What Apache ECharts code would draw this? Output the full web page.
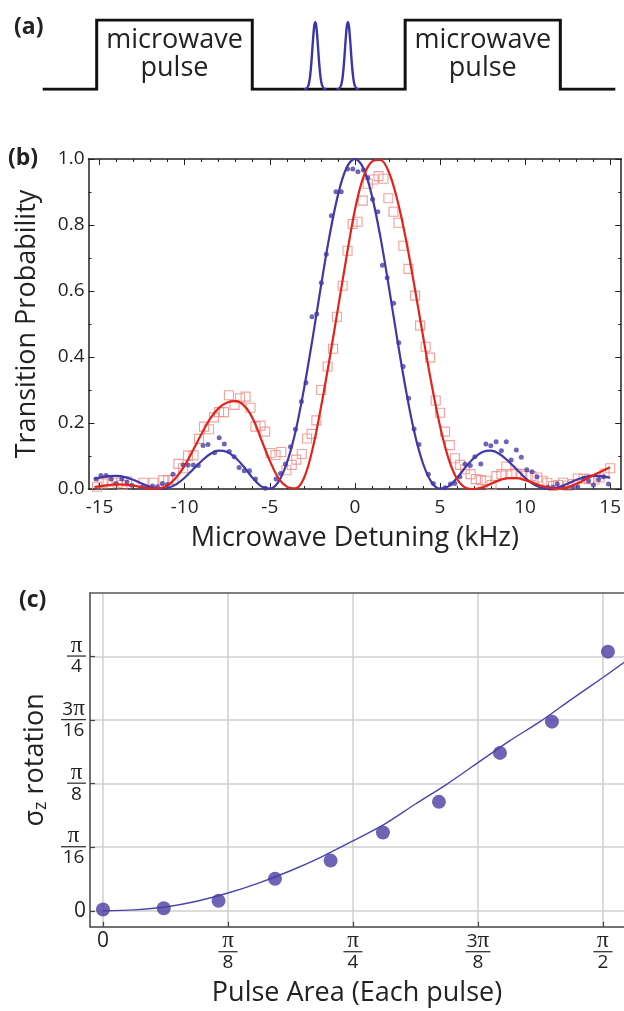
<!DOCTYPE html>
<html><head><meta charset="utf-8">
<script src="https://cdn.jsdelivr.net/npm/echarts@6/dist/echarts.min.js"></script>
<style>html,body{margin:0;padding:0;background:#fff}#c{width:624px;height:1011px}</style>
</head><body><div id="c"></div>
<script>
// ---------- Panel (a): pulse sequence schematic ----------
const seqTime  = [0, 9.43, 9.43, 36.6, 36.6, 63.3, 63.3, 90.4, 90.4, 100];
const seqLevel = [0, 0, 1, 1, 0, 0, 1, 1, 0, 0];
const pulseCenters = [47.6, 53.3];
const pulseOffsets = [-2, -1.6, -1.2, -0.9, -0.6, -0.45, -0.3, -0.15, 0, 0.15, 0.3, 0.45, 0.6, 0.9, 1.2, 1.6, 2];
const pulseHeights = [0, 0.006, 0.055, 0.19, 0.47, 0.65, 0.81, 0.93, 0.97, 0.93, 0.81, 0.65, 0.47, 0.19, 0.055, 0.006, 0];
const boxLabel = 'microwave\npulse';

// ---------- Panel (b): transition probability vs detuning ----------
const blueDotK = [-15.21,-14.92,-14.62,-14.33,-14.04,-13.69,-13.39,-13.10,-12.48,-12.19,-11.89,-11.60,-11.31,-11.01,-10.68,-10.09,-9.80,-9.49,-9.20,-8.92,-8.63,-8.24,-7.97,-7.67,-7.38,-7.09,-6.80,-6.50,-6.19,-5.84,-5.25,-4.63,-4.37,-4.08,-3.78,-3.49,-3.14,-2.87,-2.52,-2.24,-1.97,-1.68,-1.38,-1.11,-0.80,-0.43,-0.12,0.18,0.51,0.76,1.04,1.35,1.62,1.90,2.28,2.58,2.84,3.16,3.48,3.77,4.32,4.61,5.30,5.62,5.88,6.17,6.47,6.78,7.05,7.40,7.70,7.99,8.30,8.61,8.90,9.18,9.49,9.78,10.10,10.41,10.70,11.35,11.64,11.89,12.23,12.81,13.10,13.44,13.73,14.02,14.32,14.61,14.90];
const blueDotP = [0.030,0.041,0.041,0.030,0.017,0.030,0.021,0.011,0.007,0.005,0.009,0.007,0.017,0.014,0.045,0.073,0.073,0.073,0.071,0.132,0.135,0.110,0.155,0.136,0.114,0.098,0.065,0.055,0.055,0.030,0.002,0.030,0.047,0.076,0.128,0.181,0.265,0.322,0.522,0.530,0.625,0.711,0.828,0.901,0.901,0.970,0.970,0.961,0.967,0.943,0.878,0.840,0.678,0.640,0.563,0.443,0.371,0.275,0.182,0.135,0.045,0.017,0.004,0.015,0.017,0.037,0.076,0.071,0.098,0.076,0.136,0.131,0.143,0.116,0.143,0.088,0.118,0.096,0.058,0.052,0.037,0.005,0.005,0.015,0.005,0.005,0.007,0.032,0.024,0.012,0.029,0.037,0.015];

const redSqK = [-15.15,-14.82,-14.53,-14.24,-13.94,-13.66,-13.39,-12.42,-11.83,-11.25,-10.97,-10.66,-10.37,-10.09,-9.80,-9.48,-9.16,-8.86,-8.57,-8.28,-7.98,-7.69,-7.40,-7.07,-6.75,-6.42,-6.13,-5.84,-5.54,-5.27,-4.96,-4.66,-4.32,-4.02,-3.71,-3.44,-3.12,-2.81,-2.54,-2.26,-1.98,-1.60,-1.28,-1.05,-0.72,-0.43,-0.13,0.16,0.47,0.76,1.10,1.39,1.68,1.97,2.27,2.56,2.85,3.15,3.54,3.83,4.16,4.42,4.75,5.00,5.30,5.58,5.88,6.19,6.47,6.80,7.11,7.40,7.73,8.03,8.32,8.61,8.90,9.20,9.49,9.78,10.08,10.37,10.72,11.02,11.31,11.64,11.94,12.23,12.52,12.81,13.10,13.44,13.76,14.08,14.38,14.67,15.00];
const redSqP = [0.007,0.017,0.022,0.025,0.019,0.012,0.023,0.019,0.019,0.027,0.027,0.028,0.076,0.063,0.101,0.102,0.152,0.189,0.181,0.217,0.233,0.233,0.284,0.255,0.275,0.280,0.246,0.189,0.192,0.174,0.109,0.103,0.112,0.057,0.073,0.089,0.106,0.153,0.167,0.208,0.300,0.371,0.425,0.522,0.616,0.722,0.803,0.810,0.874,0.925,0.938,0.948,0.940,0.881,0.840,0.807,0.737,0.667,0.586,0.495,0.431,0.398,0.268,0.231,0.174,0.133,0.093,0.073,0.060,0.045,0.030,0.027,0.025,0.012,0.039,0.045,0.068,0.045,0.047,0.045,0.040,0.039,0.035,0.025,0.019,0.009,0.012,0.019,0.010,0.015,0.032,0.032,0.030,0.029,0.035,0.047,0.063];

const curveK = [-15.3,-15,-14.5,-14,-13.5,-13,-12.5,-12,-11.5,-11,-10.5,-10,-9.5,-9,-8.5,-8,-7.5,-7,-6.5,-6,-5.5,-5,-4.5,-4,-3.5,-3,-2.5,-2,-1.5,-1,-0.5,0,0.5,1,1.5,2,2.5,3,3.5,4,4.5,5,5.5,6,6.5,7,7.5,8,8.5,9,9.5,10,10.5,11,11.5,12,12.5,13,13.5,14,14.5,15];
const blueCurveP = [0.031,0.034,0.039,0.040,0.036,0.027,0.016,0.006,0.000,0.003,0.014,0.034,0.060,0.085,0.106,0.116,0.112,0.094,0.066,0.033,0.008,0.001,0.021,0.078,0.171,0.300,0.451,0.612,0.764,0.889,0.972,1.000,0.972,0.889,0.764,0.612,0.451,0.300,0.171,0.078,0.021,0.001,0.008,0.033,0.066,0.094,0.112,0.116,0.106,0.085,0.060,0.034,0.014,0.003,0.000,0.006,0.016,0.027,0.036,0.040,0.039,0.034];
const redCurveP = [0.006,0.008,0.012,0.014,0.013,0.010,0.005,0.001,0.002,0.011,0.035,0.071,0.118,0.168,0.213,0.245,0.262,0.266,0.252,0.214,0.150,0.086,0.034,0.007,0.002,0.032,0.118,0.245,0.390,0.545,0.700,0.845,0.945,0.992,0.997,0.960,0.875,0.757,0.615,0.465,0.320,0.192,0.093,0.031,0.004,0.000,0.005,0.016,0.027,0.033,0.033,0.027,0.018,0.009,0.003,0.001,0.005,0.015,0.028,0.041,0.054,0.066];

const bXMajor = [-15, -10, -5, 0, 5, 10, 15];
const bXMinor = [-15,-14,-13,-12,-11,-10,-9,-8,-7,-6,-5,-4,-3,-2,-1,0,1,2,3,4,5,6,7,8,9,10,11,12,13,14,15];

// ---------- Panel (c): sigma_z rotation vs pulse area (radians) ----------
const cPointArea = [0, 0.1909, 0.3632, 0.5404, 0.7151, 0.8796, 1.0556, 1.2472, 1.4106, 1.5865];
const cPointRot  = [0.0039, 0.0079, 0.0308, 0.0988, 0.1551, 0.2417, 0.3365, 0.4877, 0.5843, 0.8005];
const cFitArea = [0, 0.0982, 0.1963, 0.2945, 0.3927, 0.4909, 0.5890, 0.6872, 0.7854, 0.8836, 0.9817, 1.0799, 1.1781, 1.2763, 1.3744, 1.4726, 1.5708, 1.6376];
const cFitRot  = [0, 0.0029, 0.0118, 0.0295, 0.0550, 0.0864, 0.1237, 0.1669, 0.2160, 0.2670, 0.3299, 0.3907, 0.4575, 0.5243, 0.5851, 0.6538, 0.7206, 0.7677];
const cXTickText = ['0', 'π/8', 'π/4', '3π/8', 'π/2'];
const cXTickVal  = [0, Math.PI / 8, Math.PI / 4, 3 * Math.PI / 8, Math.PI / 2];
const cYTickText = ['0', 'π/16', 'π/8', '3π/16', 'π/4'];
const cYTickVal  = [0, Math.PI / 16, Math.PI / 8, 3 * Math.PI / 16, Math.PI / 4];

const zip = (a, b) => a.map((v, i) => [v, b[i]]);
const INK = '#222';
const FONT = 'Open Sans';

function fracText(text) {
  if (text === '0') return '{z|0}';
  const parts = text.split('/');
  const num = parts[0].split('').map(ch => ch === 'π' ? '{p|π}' : '{n|' + ch + '}').join('');
  const bar = (parts[0].length > 1 || parts[1].length > 1) ? 'm' : 's';
  return num + '\n{' + bar + '| }\n{d|' + parts[1] + '}';
}
function lookup(vals, texts, v) {
  for (let i = 0; i < vals.length; i++) if (Math.abs(vals[i] - v) < 1e-6) return fracText(texts[i]);
  return '';
}
const fracRich = {
  n: {fontFamily: FONT, fontSize: 19, lineHeight: 17, align: 'center', color: INK},
  p: {fontFamily: 'Liberation Serif', fontSize: 23, lineHeight: 17, align: 'center', color: INK},
  d: {fontFamily: FONT, fontSize: 19, lineHeight: 18, align: 'center', color: INK},
  z: {fontFamily: FONT, fontSize: 21, lineHeight: 17, align: 'center', color: INK},
  s: {width: 19, height: 1.3, lineHeight: 4, backgroundColor: '#333', align: 'center', fontSize: 1},
  m: {width: 25, height: 1.3, lineHeight: 4, backgroundColor: '#333', align: 'center', fontSize: 1}
};

const frameLine = {show: true, onZero: false, lineStyle: {color: INK, width: 1.5}};
const noLine = {show: false, onZero: false};

const pulseSeries = pulseCenters.map(c => ({
  type: 'line', xAxisIndex: 0, yAxisIndex: 0, smooth: 0.4, showSymbol: false, silent: true, z: 3,
  lineStyle: {color: '#3b35a5', width: 2.4},
  data: pulseOffsets.map((o, i) => [c + o, pulseHeights[i]])
}));

const option = {
  animation: false,
  backgroundColor: '#fff',
  textStyle: {fontFamily: FONT, color: INK},
  grid: [
    {left: 42.7, right: 8.7, top: 20, height: 69.3},
    {left: 88.5, right: 1, top: 159, bottom: 522},
    {left: 90, right: -4, top: 593, bottom: 84.3}
  ],
  xAxis: [
    {gridIndex: 0, type: 'value', min: 0, max: 100, show: false},
    {gridIndex: 1, type: 'value', position: 'bottom', min: -15.65, max: 15.65, axisLine: frameLine,
     axisTick: {inside: true, length: 6, customValues: bXMajor, lineStyle: {color: INK, width: 1}},
     axisLabel: {customValues: bXMajor, fontSize: 19, color: INK, margin: 9, formatter: v => String(v)},
     splitLine: {show: false},
     name: 'Microwave Detuning (kHz)', nameLocation: 'middle', nameGap: 36,
     nameTextStyle: {fontSize: 27, color: INK}},
    {gridIndex: 1, type: 'value', position: 'bottom', min: -15.65, max: 15.65, axisLine: noLine,
     axisTick: {inside: true, length: 3, customValues: bXMinor, lineStyle: {color: INK, width: 1}},
     axisLabel: {show: false}, splitLine: {show: false}},
    {gridIndex: 1, type: 'value', position: 'top', min: -15.65, max: 15.65, axisLine: frameLine,
     axisTick: {inside: true, length: 6, customValues: bXMajor, lineStyle: {color: INK, width: 1}},
     axisLabel: {show: false}, splitLine: {show: false}},
    {gridIndex: 1, type: 'value', position: 'top', min: -15.65, max: 15.65, axisLine: noLine,
     axisTick: {inside: true, length: 3, customValues: bXMinor, lineStyle: {color: INK, width: 1}},
     axisLabel: {show: false}, splitLine: {show: false}},
    {gridIndex: 2, type: 'value', position: 'bottom', min: -0.0408, max: 1.637,
     axisLine: {show: true, onZero: false, lineStyle: {color: '#444', width: 1.5}},
     axisTick: {inside: true, length: 5, customValues: cXTickVal, lineStyle: {color: '#444', width: 1.2}},
     axisLabel: {customValues: cXTickVal, margin: 6, rich: fracRich, formatter: v => lookup(cXTickVal, cXTickText, v)},
     splitLine: {show: true, lineStyle: {color: '#cfcfcf', width: 1.5}},
     name: 'Pulse Area (Each pulse)', nameLocation: 'middle', nameGap: 53,
     nameTextStyle: {fontSize: 27, color: INK}},
    {gridIndex: 2, type: 'value', position: 'top', min: -0.0408, max: 1.637,
     axisLine: {show: true, onZero: false, lineStyle: {color: '#555', width: 1.5}},
     axisTick: {show: false}, axisLabel: {show: false}, splitLine: {show: false}}
  ],
  yAxis: [
    {gridIndex: 0, type: 'value', min: 0, max: 1, show: false},
    {gridIndex: 1, type: 'value', position: 'left', min: 0, max: 1, interval: 0.2, axisLine: frameLine,
     axisTick: {inside: true, length: 6, lineStyle: {color: INK, width: 1}},
     minorTick: {show: true, splitNumber: 2, length: 3, lineStyle: {color: INK, width: 1}},
     axisLabel: {fontSize: 19, color: INK, margin: 4, formatter: v => v.toFixed(1)},
     splitLine: {show: false},
     name: 'Transition Probability', nameLocation: 'middle', nameGap: 48,
     nameTextStyle: {fontSize: 27, color: INK}},
    {gridIndex: 1, type: 'value', position: 'right', min: 0, max: 1, interval: 0.2, axisLine: frameLine,
     axisTick: {inside: true, length: 6, lineStyle: {color: INK, width: 1}},
     minorTick: {show: true, splitNumber: 2, length: 3, lineStyle: {color: INK, width: 1}},
     axisLabel: {show: false}, splitLine: {show: false}},
    {gridIndex: 2, type: 'value', position: 'left', min: -0.0491, max: 0.9817,
     axisLine: {show: true, onZero: false, lineStyle: {color: '#444', width: 1.5}},
     axisTick: {inside: true, length: 5, customValues: cYTickVal, lineStyle: {color: '#444', width: 1.2}},
     axisLabel: {customValues: cYTickVal, margin: 4, rich: fracRich, formatter: v => lookup(cYTickVal, cYTickText, v)},
     splitLine: {show: true, lineStyle: {color: '#cfcfcf', width: 1.5}},
     name: '{a|σ}{s|z}{a| rotation}', nameLocation: 'middle', nameGap: 34,
     nameTextStyle: {rich: {
       a: {fontFamily: FONT, fontSize: 27, lineHeight: 30, color: INK},
       s: {fontFamily: FONT, fontSize: 18, lineHeight: 18, verticalAlign: 'bottom', color: INK}
     }}}
  ],
  graphic: [
    {type: 'text', left: 14, top: 16, style: {text: '(a)', font: 'bold 23px "Open Sans"', fill: INK}},
    {type: 'text', left: 8, top: 147, style: {text: '(b)', font: 'bold 23px "Open Sans"', fill: INK}},
    {type: 'text', left: 19, top: 589, style: {text: '(c)', font: 'bold 23px "Open Sans"', fill: INK}},
    {type: 'text', x: 174.5, y: 54, style: {text: boxLabel, font: '27px "Open Sans"', lineHeight: 28, fill: INK, align: 'center', verticalAlign: 'middle'}},
    {type: 'text', x: 482.8, y: 54, style: {text: boxLabel, font: '27px "Open Sans"', lineHeight: 28, fill: INK, align: 'center', verticalAlign: 'middle'}}
  ],
  series: [
    {type: 'line', xAxisIndex: 0, yAxisIndex: 0, showSymbol: false, silent: true, z: 2,
     lineStyle: {color: '#111', width: 3, join: 'miter'}, data: zip(seqTime, seqLevel)},
    ...pulseSeries,
    {type: 'scatter', xAxisIndex: 1, yAxisIndex: 1, symbol: 'rect', symbolSize: 9, z: 2,
     itemStyle: {color: 'rgba(255,255,255,0)', borderColor: '#ef8a83', borderWidth: 1.1},
     data: zip(redSqK, redSqP)},
    {type: 'scatter', xAxisIndex: 1, yAxisIndex: 1, symbol: 'circle', symbolSize: 5, z: 3,
     itemStyle: {color: '#4a3ea8'}, data: zip(blueDotK, blueDotP)},
    {type: 'line', xAxisIndex: 1, yAxisIndex: 1, smooth: 0.35, showSymbol: false, z: 4,
     lineStyle: {color: '#3f38a6', width: 2.2}, data: zip(curveK, blueCurveP)},
    {type: 'line', xAxisIndex: 1, yAxisIndex: 1, smooth: 0.35, showSymbol: false, z: 4,
     lineStyle: {color: '#e2231c', width: 2.2}, data: zip(curveK, redCurveP)},
    {type: 'line', xAxisIndex: 5, yAxisIndex: 3, smooth: 0.3, showSymbol: false, z: 3,
     lineStyle: {color: '#4a44ac', width: 1.4}, data: zip(cFitArea, cFitRot)},
    {type: 'scatter', xAxisIndex: 5, yAxisIndex: 3, symbol: 'circle', symbolSize: 14, z: 4,
     itemStyle: {color: '#4b3ca3'}, data: zip(cPointArea, cPointRot)}
  ]
};
const chart = echarts.init(document.getElementById('c'), null, {renderer: 'canvas', width: 624, height: 1011});
chart.setOption(option);
</script></body></html>
